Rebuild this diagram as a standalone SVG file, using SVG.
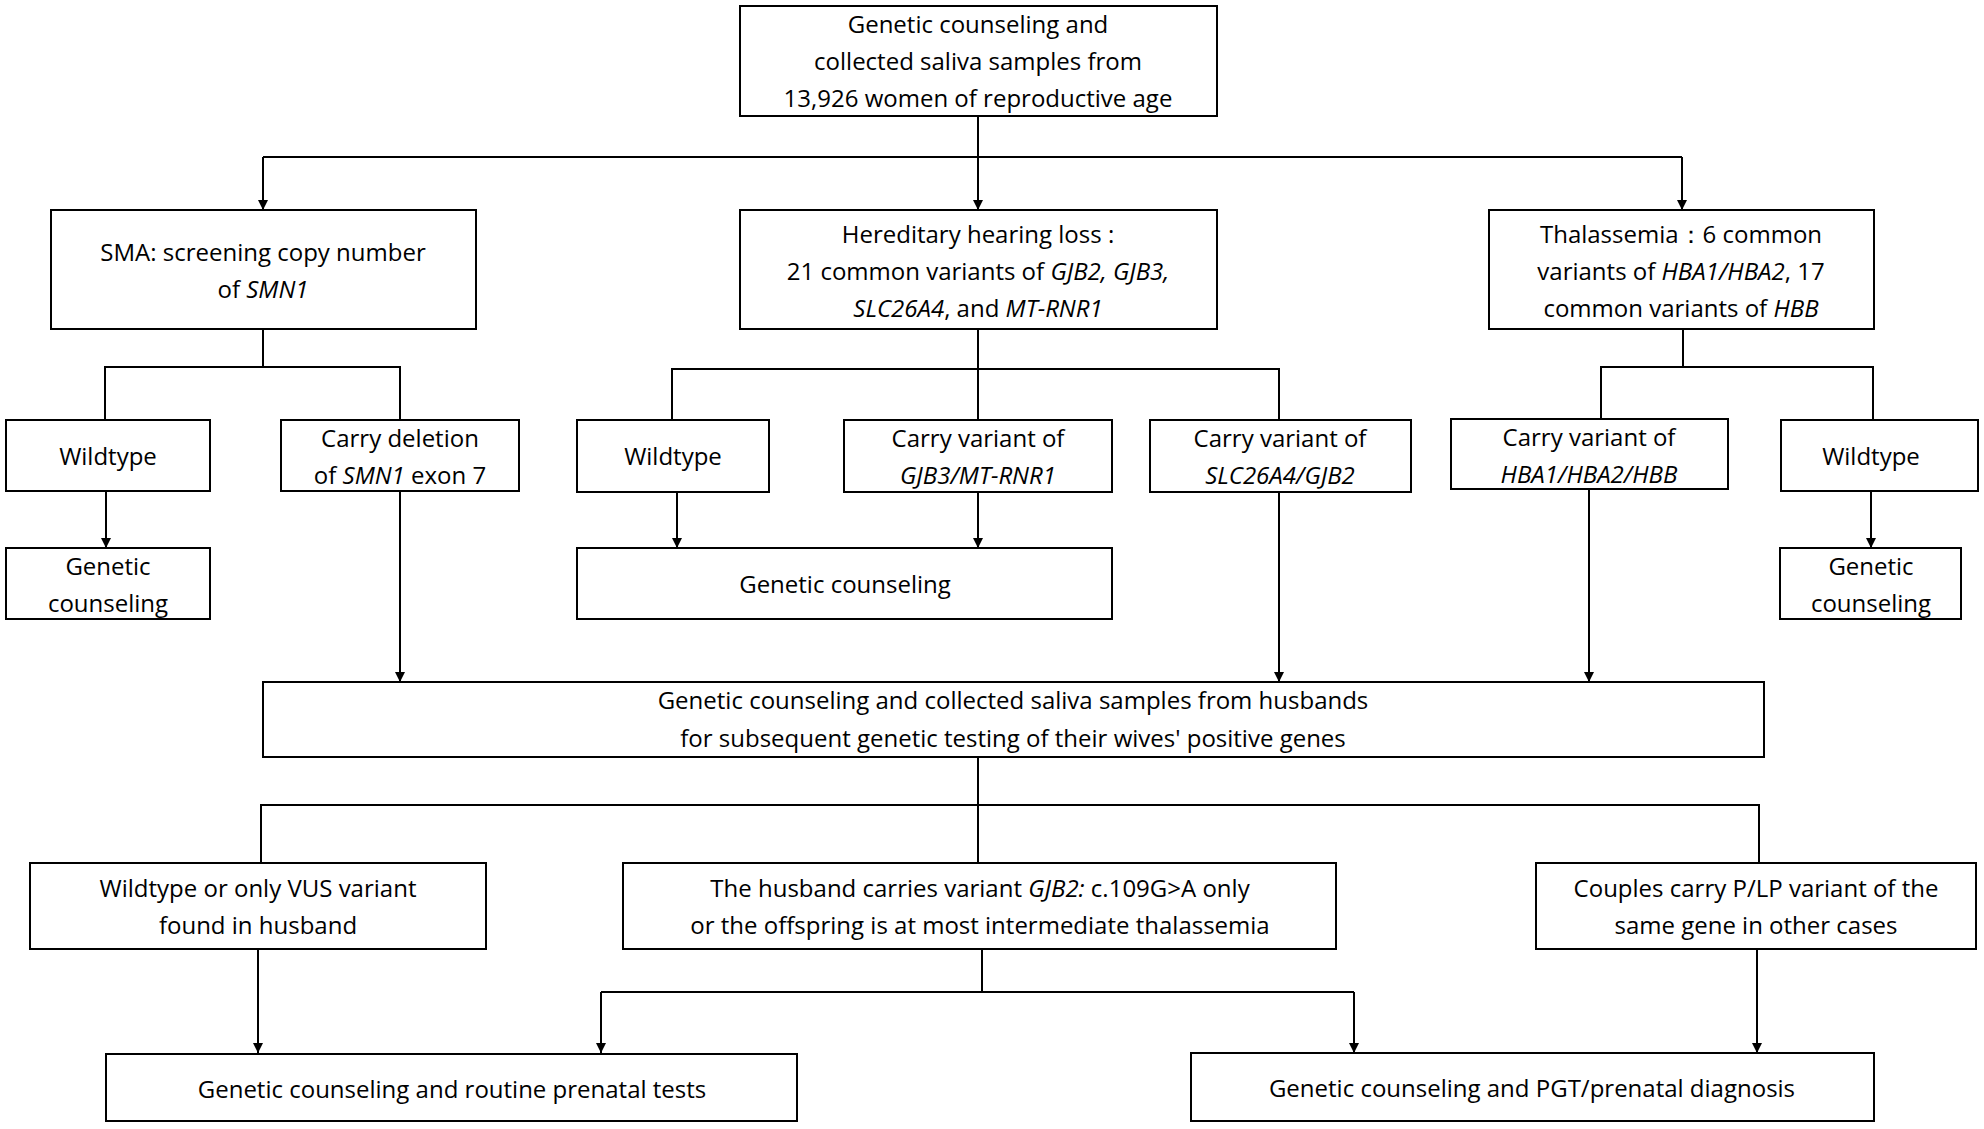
<svg xmlns="http://www.w3.org/2000/svg" width="1984" height="1129" viewBox="0 0 1984 1129">
<defs>
<marker id="ah" viewBox="0 0 10 10" refX="10" refY="5" markerWidth="10" markerHeight="10" markerUnits="userSpaceOnUse" orient="auto"><path d="M0,0 L10,5 L0,10 z" fill="#000"/></marker>
<style>
.b{fill:#fff;stroke:#000;stroke-width:2}
text{font-family:"Open Sans","Liberation Sans",sans-serif;font-size:24px;fill:#000;text-anchor:middle}
.c line,.c polyline{stroke:#000;stroke-width:2;fill:none}
.a{marker-end:url(#ah)}
tspan.i{font-style:italic}
</style>
</defs>
<rect width="1984" height="1129" fill="#fff"/>
<g class="c">
<line x1="978" y1="116" x2="978" y2="157"/>
<line x1="263" y1="157" x2="1682" y2="157"/>
<line class="a" x1="263" y1="157" x2="263" y2="210"/>
<line class="a" x1="978" y1="157" x2="978" y2="210"/>
<line class="a" x1="1682" y1="157" x2="1682" y2="210"/>
<polyline points="263,329 263,367"/>
<polyline points="105,420 105,367 400,367 400,420"/>
<line class="a" x1="106" y1="491" x2="106" y2="548"/>
<line x1="978" y1="329" x2="978" y2="420"/>
<polyline points="672,420 672,369 1279,369 1279,420"/>
<line class="a" x1="677" y1="492" x2="677" y2="548"/>
<line class="a" x1="978" y1="492" x2="978" y2="548"/>
<line x1="1683" y1="329" x2="1683" y2="367"/>
<polyline points="1601,419 1601,367 1873,367 1873,420"/>
<line class="a" x1="1871" y1="491" x2="1871" y2="548"/>
<line class="a" x1="400" y1="491" x2="400" y2="682"/>
<line class="a" x1="1279" y1="492" x2="1279" y2="682"/>
<line class="a" x1="1589" y1="489" x2="1589" y2="682"/>
<line x1="978" y1="757" x2="978" y2="863"/>
<polyline points="261,863 261,805 1759,805 1759,863"/>
<line class="a" x1="258" y1="949" x2="258" y2="1053"/>
<line x1="982" y1="949" x2="982" y2="992"/>
<line x1="601" y1="992" x2="1354" y2="992"/>
<line class="a" x1="601" y1="992" x2="601" y2="1053"/>
<line class="a" x1="1354" y1="992" x2="1354" y2="1053"/>
<line class="a" x1="1757" y1="949" x2="1757" y2="1053"/>
</g>
<g id="top"><rect class="b" x="740" y="6" width="477" height="110"/>
<text x="978" y="33">Genetic counseling and</text><text x="978" y="70">collected saliva samples from</text><text x="978" y="107">13,926 women of reproductive age</text></g>
<g id="sma"><rect class="b" x="51" y="210" width="425" height="119"/>
<text x="263" y="261">SMA: screening copy number</text><text x="263" y="298">of <tspan class="i">SMN1</tspan></text></g>
<g id="hear"><rect class="b" x="740" y="210" width="477" height="119"/>
<text x="978" y="243">Hereditary hearing loss :</text><text x="978" y="280">21 common variants of <tspan class="i">GJB2, GJB3,</tspan></text><text x="978" y="317"><tspan class="i">SLC26A4</tspan>, and <tspan class="i">MT-RNR1</tspan></text></g>
<g id="thal"><rect class="b" x="1489" y="210" width="385" height="119"/>
<text x="1681" y="243">Thalassemia：6 common</text><text x="1681" y="280">variants of <tspan class="i">HBA1/HBA2</tspan>, 17</text><text x="1681" y="317">common variants of <tspan class="i">HBB</tspan></text></g>
<g id="wt1"><rect class="b" x="6" y="420" width="204" height="71"/><text x="108" y="465">Wildtype</text></g>
<g id="del"><rect class="b" x="281" y="420" width="238" height="71"/><text x="400" y="447">Carry deletion</text><text x="400" y="484">of <tspan class="i">SMN1</tspan> exon 7</text></g>
<g id="gc1"><rect class="b" x="6" y="548" width="204" height="71"/><text x="108" y="575">Genetic</text><text x="108" y="612">counseling</text></g>
<g id="wt2"><rect class="b" x="577" y="420" width="192" height="72"/><text x="673" y="465">Wildtype</text></g>
<g id="gjb3"><rect class="b" x="844" y="420" width="268" height="72"/><text x="978" y="447">Carry variant of</text><text x="978" y="484"><tspan class="i">GJB3/MT-RNR1</tspan></text></g>
<g id="slc"><rect class="b" x="1150" y="420" width="261" height="72"/><text x="1280" y="447">Carry variant of</text><text x="1280" y="484"><tspan class="i">SLC26A4/GJB2</tspan></text></g>
<g id="gc2"><rect class="b" x="577" y="548" width="535" height="71"/><text x="845" y="593">Genetic counseling</text></g>
<g id="hba"><rect class="b" x="1451" y="419" width="277" height="70"/><text x="1589" y="446">Carry variant of</text><text x="1589" y="483"><tspan class="i">HBA1/HBA2/HBB</tspan></text></g>
<g id="wt3"><rect class="b" x="1781" y="420" width="197" height="71"/><text x="1871" y="465">Wildtype</text></g>
<g id="gc3"><rect class="b" x="1780" y="548" width="181" height="71"/><text x="1871" y="575">Genetic</text><text x="1871" y="612">counseling</text></g>
<g id="husb"><rect class="b" x="263" y="682" width="1501" height="75"/><text x="1013" y="709">Genetic counseling and collected saliva samples from husbands</text><text x="1013" y="747">for subsequent genetic testing of their wives' positive genes</text></g>
<g id="l"><rect class="b" x="30" y="863" width="456" height="86"/><text x="258" y="897">Wildtype or only VUS variant</text><text x="258" y="934">found in husband</text></g>
<g id="m"><rect class="b" x="623" y="863" width="713" height="86"/><text x="980" y="897">The husband carries variant <tspan class="i">GJB2:</tspan> c.109G&gt;A only</text><text x="980" y="934">or the offspring is at most intermediate thalassemia</text></g>
<g id="r"><rect class="b" x="1536" y="863" width="440" height="86"/><text x="1756" y="897">Couples carry P/LP variant of the</text><text x="1756" y="934">same gene  in other cases</text></g>
<g id="bl"><rect class="b" x="106" y="1054" width="691" height="67"/><text x="452" y="1098">Genetic counseling and routine prenatal tests</text></g>
<g id="br"><rect class="b" x="1191" y="1053" width="683" height="68"/><text x="1532" y="1097">Genetic counseling and PGT/prenatal diagnosis</text></g>
</svg>
